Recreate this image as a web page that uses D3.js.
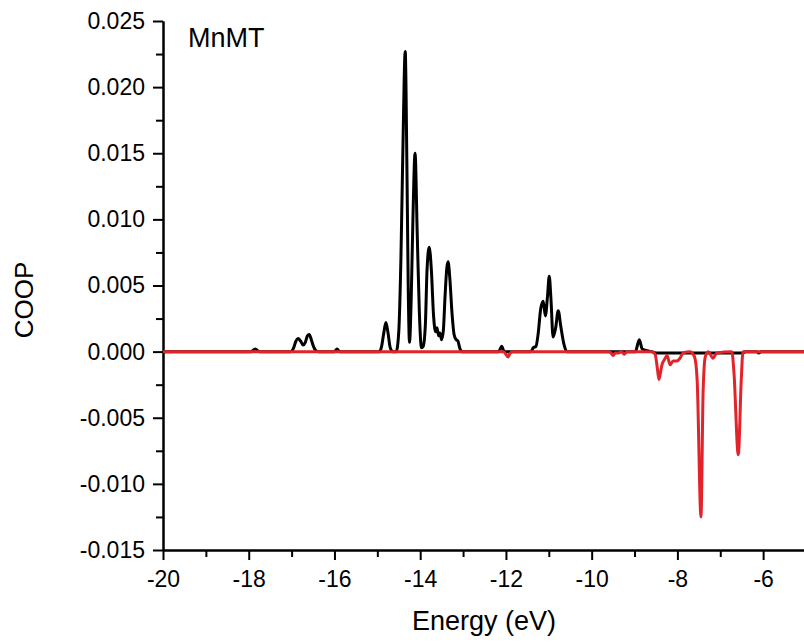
<!DOCTYPE html>
<html>
<head>
<meta charset="utf-8">
<script src="https://cdn.jsdelivr.net/npm/d3@7"></script>
<style>
  html, body { margin: 0; padding: 0; background: #fff; }
  svg { display: block; }
  text { font-family: "Liberation Sans", Arial, sans-serif; fill: #000; }
</style>
</head>
<body>
<svg id="chart" width="804" height="643"></svg>
<script>
// ---- data ----
const seriesNames = ["COOP (black)", "COOP (red)"];
const blackE = [-20,-17.95,-17.85,-17.75,
  -17.02,-16.95,-16.9,-16.85,-16.79,-16.73,-16.68,-16.63,-16.59,-16.54,-16.49,-16.44,-16.38,
  -16.0,-15.94,-15.88,
  -14.95,-14.9,-14.85,-14.8,-14.75,-14.7,-14.64,
  -14.56,-14.5,-14.45,-14.4,-14.35,-14.31,-14.28,-14.25,-14.21,-14.17,-14.12,-14.07,-14.02,-13.97,
  -13.93,-13.88,-13.84,-13.79,-13.74,-13.69,-13.64,-13.61,-13.57,-13.54,-13.5,-13.46,-13.42,-13.38,
  -13.35,-13.31,-13.26,-13.21,-13.16,-13.12,-13.08,-13.03,
  -12.17,-12.1,-12.04,
  -11.42,-11.36,-11.3,-11.25,-11.19,-11.13,-11.08,-11.03,-10.99,-10.95,-10.9,-10.84,-10.78,-10.72,-10.65,-10.58,
  -8.98,-8.89,-8.82,-8.6,-8.5,-6.5,-6.4,-6.15,-6.1,-6.05,-5];
const blackCOOP = [0,0,0.0002,0,
  0,0.0003,0.0008,0.0010,0.0008,0.0005,0.0007,0.0012,0.0013,0.0009,0.0004,0.0001,0,
  0,0.0002,0,
  0,0.0004,0.0014,0.0022,0.0014,0.0003,0,
  0,0.0015,0.007,0.016,0.0227,0.014,0.005,0.0007,0.004,0.010,0.0150,0.009,0.003,0.0003,
  0.0004,0.002,0.0062,0.0079,0.0062,0.0028,0.0015,0.0018,0.0012,0.0014,0.0009,0.0016,0.0042,0.0063,
  0.0068,0.0056,0.003,0.0013,0.0009,0.0008,0.0003,0,
  0,0.0004,0,
  0,0.0003,0.0004,0.0013,0.0032,0.0038,0.0027,0.0042,0.0057,0.004,0.0011,0.0018,0.0031,0.0019,0.0006,0,
  0,0.0009,0.0002,0,-0.0001,-0.0001,0,0,-0.0001,0,0];
const redE = [-20,-12.06,-12.0,-11.95,-11.9,-11.84,
  -9.6,-9.55,-9.5,-9.45,-9.38,-9.3,-9.24,-9.18,
  -8.6,-8.52,-8.47,-8.43,-8.39,-8.36,-8.3,-8.24,-8.17,-8.1,-8.01,-7.94,-7.87,-7.7,
  -7.6,-7.54,-7.45,-7.4,-7.35,-7.28,-7.17,-7.08,-6.73,-6.68,-6.58,-6.51,-6.47,-5];
const redCOOP = [0,0,-0.0002,-0.0004,-0.0001,0,
  0,-0.0001,-0.0003,-0.0001,-0.0001,0,-0.0002,0,
  0,-0.0002,-0.0012,-0.0021,-0.0015,-0.001,-0.0006,-0.0003,-0.001,-0.0007,-0.0007,-0.0005,-0.0001,0,
  -0.0004,-0.0021,-0.0125,-0.003,-0.0004,0,-0.0005,-0.0001,0,-0.0016,-0.0078,-0.0021,0,0];
const xTicks = [-20,-18,-16,-14,-12,-10,-8,-6];
const xMinorTicks = [-19,-17,-15,-13,-11,-9,-7];
const yTicks = [-0.015,-0.010,-0.005,0.000,0.005,0.010,0.015,0.020,0.025];
const yMinorTicks = [-0.0125,-0.0075,-0.0025,0.0025,0.0075,0.0125,0.0175,0.0225];
const xLabel = "Energy (eV)";
const yLabel = "COOP";
const panelLabel = "MnMT";

// ---- drawing ----
const svg = d3.select("#chart");
const x = d3.scaleLinear().domain([-20, -5]).range([163, 806]);
const y = d3.scaleLinear().domain([-0.015, 0.025]).range([550, 21]);
const fmt = v => d3.format(".3f")(v).replace("\u2212", "-");

// axes
const gx = svg.append("g").attr("transform", "translate(0,550)");
gx.call(d3.axisBottom(x).tickValues(xMinorTicks).tickSize(7).tickSizeOuter(0).tickFormat(""));
const gx2 = svg.append("g").attr("transform", "translate(0,550)");
gx2.call(d3.axisBottom(x).tickValues(xTicks).tickSize(10).tickSizeOuter(0).tickPadding(11)
  .tickFormat(d => String(d)));
const gy = svg.append("g").attr("transform", "translate(163,0)");
gy.call(d3.axisLeft(y).tickValues(yMinorTicks).tickSize(7).tickSizeOuter(0).tickFormat(""));
const gy2 = svg.append("g").attr("transform", "translate(163,0)");
gy2.call(d3.axisLeft(y).tickValues(yTicks).tickSize(10).tickSizeOuter(0).tickPadding(8).tickFormat(fmt));

svg.selectAll(".domain").attr("stroke", "#000").attr("stroke-width", 2);
svg.selectAll(".tick line").attr("stroke", "#000").attr("stroke-width", 2);
svg.selectAll(".tick text").style("font-size", "23px")
  .style("font-family", '"Liberation Sans", Arial, sans-serif');

// lines
const line = d3.line().x(d => x(d[0])).y(d => y(d[1])).curve(d3.curveMonotoneX);
const blackData = blackE.map((e, i) => [e, blackCOOP[i]]);
const redData = redE.map((e, i) => [e, redCOOP[i]]);
svg.append("path").datum(blackData).attr("d", line)
  .attr("fill", "none").attr("stroke", "#000").attr("stroke-width", 3).attr("stroke-linejoin", "round");
svg.append("path").datum(redData).attr("d", line)
  .attr("fill", "none").attr("stroke", "#e3232a").attr("stroke-width", 3).attr("stroke-linejoin", "round");

// labels
svg.append("text").attr("x", 484).attr("y", 630).attr("text-anchor", "middle")
  .style("font-size", "27px").text(xLabel);
svg.append("text").attr("transform", "translate(33,300) rotate(-90)").attr("text-anchor", "middle")
  .style("font-size", "26px").text(yLabel);
svg.append("text").attr("x", 188).attr("y", 47).style("font-size", "27px").text(panelLabel);
</script>
</body>
</html>
